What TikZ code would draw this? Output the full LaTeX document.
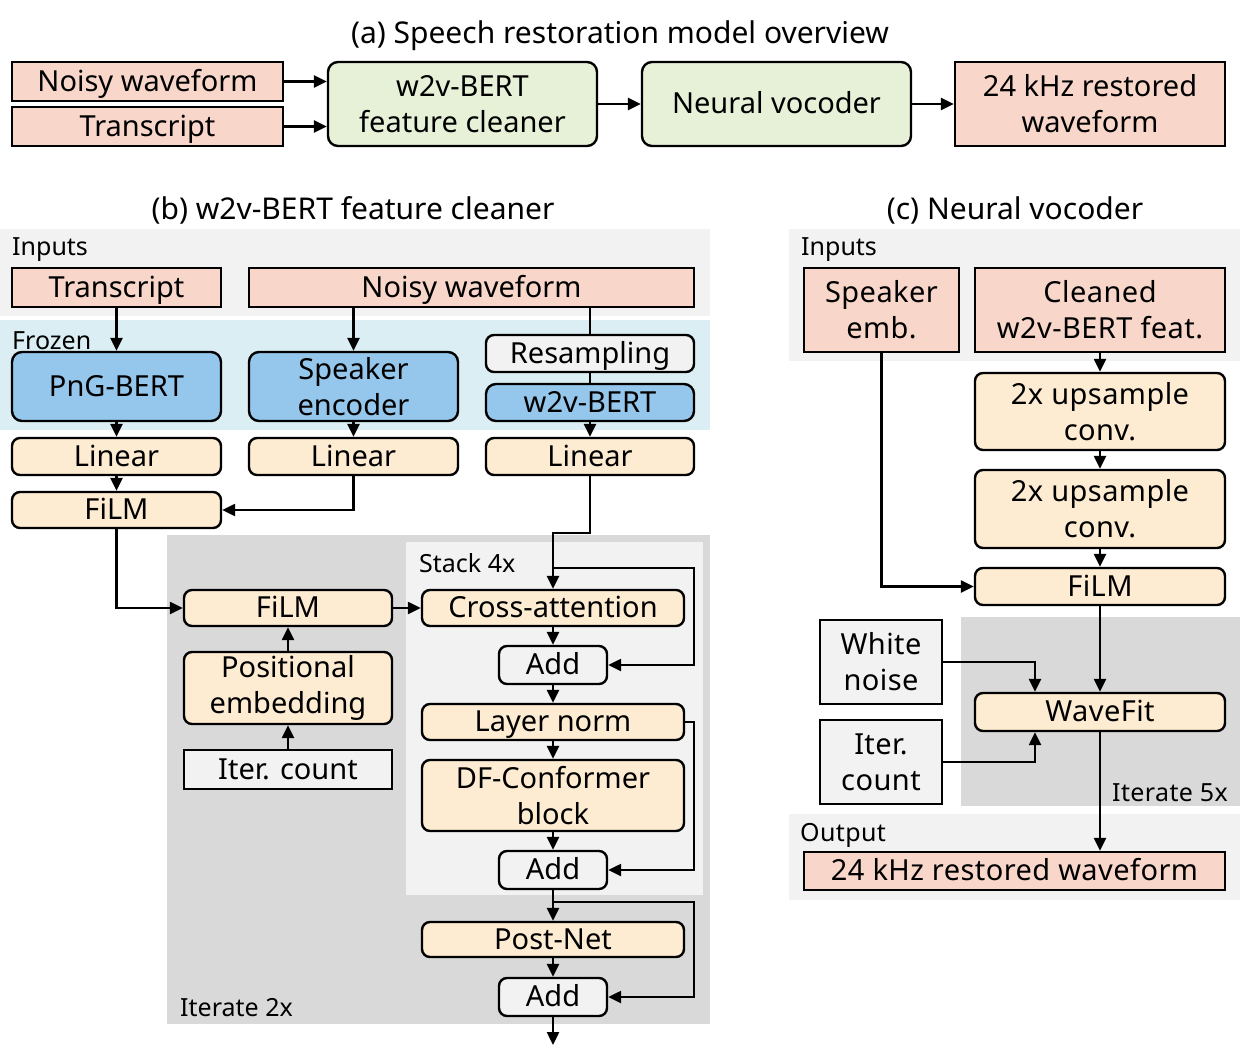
\documentclass[tikz,border=0pt]{standalone}
\usepackage{fontspec}
\setmainfont{Noto Sans}
\newfontfamily\widefont[LetterSpace=1.5]{Noto Sans}
\usepackage{tikz}
\usetikzlibrary{positioning, calc}
\usetikzlibrary{arrows.meta}
\definecolor{salmonfill}{HTML}{F8D7CA}
\definecolor{greenfill}{HTML}{E6F1D8}
\definecolor{bluefill}{HTML}{95C6EC}
\definecolor{orangefill}{HTML}{FDEBD2}
\definecolor{lightgrayfill}{HTML}{F2F2F2}
\definecolor{darkgrayfill}{HTML}{D9D9D9}
\definecolor{frozenfill}{HTML}{DAEEF3}
\tikzstyle{basebox}=[draw=black, line width=2.4pt, inner sep=0pt, align=center, font=\fontsize{29}{36}\selectfont]
\tikzstyle{single}=[text height=21pt, text depth=2pt]
\tikzstyle{salmonbox}=[basebox, fill=salmonfill]
\tikzstyle{greenbox}=[basebox, fill=greenfill, rounded corners=10pt]
\tikzstyle{bluebox}=[basebox, fill=bluefill, rounded corners=10pt]
\tikzstyle{orangebox}=[basebox, fill=orangefill, rounded corners=8pt]
\tikzstyle{graybox}=[basebox, fill=lightgrayfill]
\tikzstyle{addbox}=[basebox, fill=lightgrayfill, rounded corners=8pt]
\tikzstyle{vocbox}=[font=\widefont\fontsize{29}{36}\selectfont]
\tikzstyle{paneltitle}=[inner sep=0pt, font=\fontsize{30}{34}\selectfont]
\tikzstyle{panellabel}=[inner sep=0pt, anchor=west, font=\fontsize{25}{30}\selectfont]
\tikzstyle{edgepath}=[line width=2.4pt, -{Triangle[length=13pt,width=12pt]}]
\tikzstyle{plainpath}=[line width=2.4pt]

\begin{document}
\begin{tikzpicture}[x=1pt, y=-1pt]
        \useasboundingbox (0,0) rectangle (1243,1050);

        % (a) overview
        \node[paneltitle] (titleA) at (620,36) {(a) Speech restoration model overview};
        \node[salmonbox, single, minimum width=271, minimum height=39] (noisyA) at (147.5,81.5) {Noisy waveform};
        \node[salmonbox, single, minimum width=271, minimum height=39] (transA) at (147.5,126.5) {Transcript};
        \node[greenbox, minimum width=269, minimum height=84] (cleanerA) at (462.5,104) {w2v-BERT\\feature cleaner};
        \node[greenbox, single, minimum width=269, minimum height=84] (vocoderA) at (776.5,104) {Neural vocoder};
        \node[salmonbox, minimum width=270, minimum height=84] (outA) at (1090,104) {24 kHz restored\\waveform};

        \draw[edgepath] (noisyA.east) -- (noisyA.east -| cleanerA.west);
        \draw[edgepath] (transA.east) -- (transA.east -| cleanerA.west);
        \draw[edgepath] (cleanerA) -- (vocoderA);
        \draw[edgepath] (vocoderA) -- (outA);

        % (b) feature cleaner
        \node[paneltitle] (titleB) at (353,210) {(b) w2v-BERT feature cleaner};
        \fill[lightgrayfill] (0,229) rectangle (710,316);
        \fill[frozenfill] (0,320) rectangle (710,430);
        \fill[darkgrayfill] (167,535) rectangle (710,1024);
        \fill[lightgrayfill] (406,542) rectangle (703,895);
        \node[panellabel] (inputsB) at (12,250) {Inputs};
        \node[panellabel] (frozenB) at (12,341) {Frozen};
        \node[panellabel] (iterateB) at (180,1008) {Iterate 2x};
        \node[panellabel] (stackB) at (419,563) {Stack 4x};

        \node[salmonbox, single, minimum width=209, minimum height=39] (transB) at (116.5,287.5) {Transcript};
        \node[salmonbox, single, minimum width=445, minimum height=39] (noisyB) at (471.5,287.5) {Noisy waveform};
        \node[bluebox, single, minimum width=209, minimum height=69] (pngB) at (116.5,386.5) {PnG-BERT};
        \node[bluebox, minimum width=209, minimum height=69] (spkB) at (353.5,386.5) {Speaker\\encoder};
        \node[addbox, single, minimum width=208, minimum height=37] (resB) at (590,353.5) {Resampling};
        \node[bluebox, single, minimum width=208, minimum height=37] (w2vB) at (590,402.5) {w2v-BERT};
        \node[orangebox, single, minimum width=209, minimum height=37] (lin1) at (116.5,456.5) {Linear};
        \node[orangebox, single, minimum width=209, minimum height=37] (lin2) at (353.5,456.5) {Linear};
        \node[orangebox, single, minimum width=208, minimum height=37] (lin3) at (590,456.5) {Linear};
        \node[orangebox, single, minimum width=209, minimum height=36] (film1) at (116.5,510) {FiLM};

        \node[orangebox, single, minimum width=208, minimum height=36] (film2) at (288,608) {FiLM};
        \node[orangebox, minimum width=208, minimum height=72] (posB) at (288,688) {Positional\\embedding};
        \node[graybox, single, minimum width=208, minimum height=39] (iterB) at (288,769.5) {Iter. count};
        \node[orangebox, single, minimum width=262, minimum height=36] (cross) at (553,608) {Cross-attention};
        \node[addbox, single, minimum width=108, minimum height=38] (add1) at (553,665) {Add};
        \node[orangebox, single, minimum width=262, minimum height=36] (lnorm) at (553,722) {Layer norm};
        \node[orangebox, minimum width=262, minimum height=71] (dfc) at (553,795.5) {DF-Conformer\\block};
        \node[addbox, single, minimum width=108, minimum height=38] (add2) at (553,870) {Add};
        \node[orangebox, single, minimum width=262, minimum height=35] (post) at (553,939.5) {Post-Net};
        \node[addbox, single, minimum width=108, minimum height=38] (add3) at (553,997) {Add};
        \coordinate (bend1) at (553,533);
        \coordinate (res1) at (553,568);
        \coordinate (res3) at (553,902);
        \coordinate (outB) at (553,1045);

        \draw[edgepath] (transB) -- (pngB);
        \draw[edgepath] (noisyB.south -| spkB.north) -- (spkB.north);
        \draw[plainpath] (noisyB.south -| resB.north) -- (resB.north);
        \draw[plainpath] (resB) -- (w2vB);
        \draw[edgepath] (pngB) -- (lin1);
        \draw[edgepath] (spkB) -- (lin2);
        \draw[edgepath] (w2vB) -- (lin3);
        \draw[edgepath] (lin1) -- (film1);
        \draw[edgepath] (lin2.south) |- (film1.east);
        \draw[edgepath] (film1.south) |- (film2.west);
        \draw[edgepath] (iterB) -- (posB);
        \draw[edgepath] (posB) -- (film2);
        \draw[edgepath] (film2) -- (cross);
        \draw[edgepath] (lin3.south) |- (bend1) -- (cross.north);
        \draw[edgepath] (res1) -- ++(141,0) |- (add1.east);
        \draw[edgepath] (cross) -- (add1);
        \draw[edgepath] (add1) -- (lnorm);
        \draw[edgepath] (lnorm) -- (dfc);
        \draw[edgepath] (dfc) -- (add2);
        \draw[edgepath] (lnorm.east) -- ++(9,0) |- (add2.east);
        \draw[edgepath] (add2) -- (post);
        \draw[edgepath] (res3) -- ++(141,0) |- (add3.east);
        \draw[edgepath] (post) -- (add3);
        \draw[edgepath] (add3) -- (outB);

        % (c) neural vocoder
        \node[paneltitle] (titleC) at (1015,210) {(c) Neural vocoder};
        \fill[lightgrayfill] (789,229) rectangle (1240,361);
        \fill[darkgrayfill] (961,617) rectangle (1240,806);
        \fill[lightgrayfill] (789,814) rectangle (1240,900);
        \node[panellabel] (inputsC) at (801,250) {Inputs};
        \node[panellabel, anchor=east, font=\widefont\fontsize{25}{30}\selectfont] (iterateC) at (1228,793) {Iterate 5x};
        \node[panellabel, font=\widefont\fontsize{25}{30}\selectfont] (outputC) at (800,835) {Output};

        \node[salmonbox, vocbox, minimum width=155, minimum height=84] (spkC) at (881.5,310) {Speaker\\emb.};
        \node[salmonbox, vocbox, minimum width=250, minimum height=84] (cleanC) at (1100,310) {Cleaned\\w2v-BERT feat.};
        \node[orangebox, vocbox, minimum width=250, minimum height=77] (up1) at (1100,411.5) {2x upsample\\conv.};
        \node[orangebox, vocbox, minimum width=250, minimum height=78] (up2) at (1100,509) {2x upsample\\conv.};
        \node[orangebox, vocbox, single, minimum width=250, minimum height=37] (film3) at (1100,586.5) {FiLM};
        \node[graybox, vocbox, minimum width=122, minimum height=84] (noiseC) at (881,662) {White\\noise};
        \node[graybox, vocbox, minimum width=122, minimum height=84] (iterC) at (881,762) {Iter.\\count};
        \node[orangebox, vocbox, single, minimum width=250, minimum height=38] (wavefit) at (1100,712) {WaveFit};
        \node[salmonbox, vocbox, single, minimum width=421, minimum height=38] (outC) at (1014.5,871) {24 kHz restored waveform};

        \draw[edgepath] (cleanC) -- (up1);
        \draw[edgepath] (up1) -- (up2);
        \draw[edgepath] (up2) -- (film3);
        \draw[edgepath] (spkC.south) |- (film3.west);
        \draw[edgepath] (film3) -- (wavefit);
        \draw[edgepath] (noiseC.east) -| ([xshift=-65]wavefit.north);
        \draw[edgepath] (iterC.east) -| ([xshift=-65]wavefit.south);
        \draw[edgepath] (wavefit.south) -- (wavefit.south |- outC.north);
    \end{tikzpicture}
\end{document}
